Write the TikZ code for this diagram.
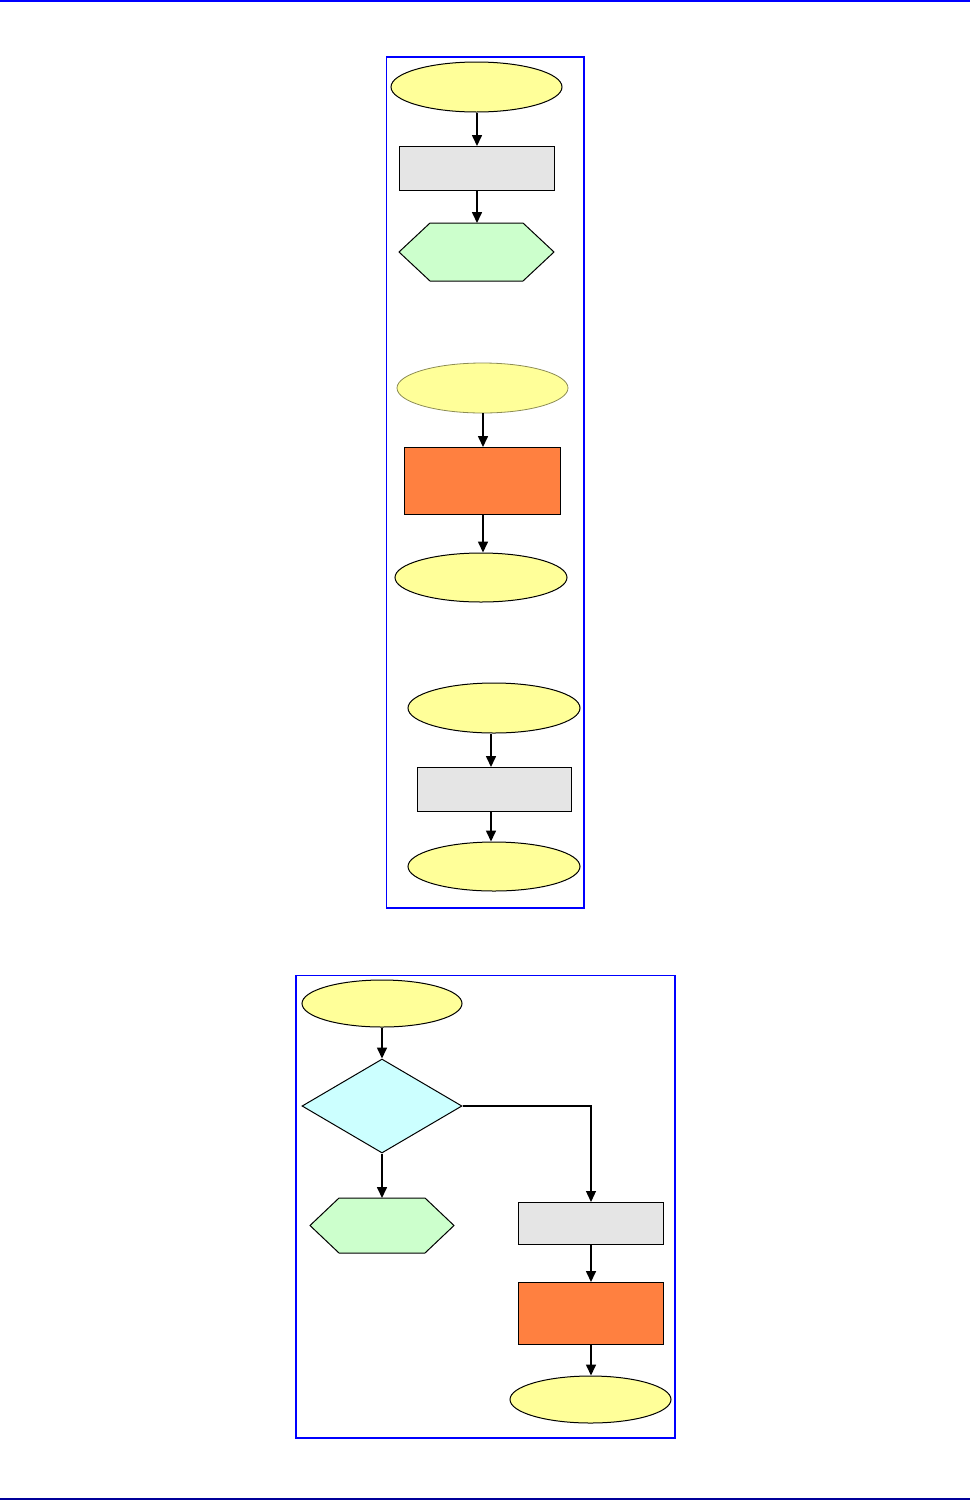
\documentclass[tikz,border=0pt]{standalone}
\usetikzlibrary{shapes.geometric,arrows.meta}
\definecolor{termyellow}{HTML}{FFFF99}
\definecolor{procgray}{HTML}{E5E5E5}
\definecolor{prepgreen}{HTML}{CCFFCC}
\definecolor{hotorange}{HTML}{FF8040}
\definecolor{decicyan}{HTML}{CCFFFF}
\definecolor{framblue}{HTML}{0000FF}
\definecolor{rulenavy}{HTML}{000099}
\tikzset{
  term/.style={ellipse, draw=black, line width=1pt, fill=termyellow, inner sep=0pt},
  termsoft/.style={ellipse, draw=black!45!termyellow, line width=0.8pt, fill=termyellow, inner sep=0pt},
  procbox/.style={rectangle, draw=black, line width=1.25pt, fill=procgray, inner sep=0pt, anchor=north west},
  hotbox/.style={rectangle, draw=black, line width=1.1pt, fill=hotorange, inner sep=0pt, anchor=north west},
  decision/.style={diamond, draw=black, line width=1pt, fill=decicyan, inner sep=0pt},
  hexfill/.style={draw=black, line width=1pt, fill=prepgreen},
  ghost/.style={rectangle, inner sep=0pt, anchor=north west},
  frame/.style={draw=framblue, line width=1.2pt},
  flow/.style={draw=black, line width=1.6pt, -{Triangle[length=11pt,width=10pt]}},
}
\begin{document}
\begin{tikzpicture}[x=1pt,y=-1pt]
\useasboundingbox (0,0) rectangle (970,1500);
% page rules
\draw[framblue, line width=1.5pt] (0,0.8) -- (970,0.8);
\draw[rulenavy, line width=1.5pt] (0,1499) -- (970,1499);
% frames
\draw[frame] (386.5,57) rectangle (584,908);
\draw[frame] (296,975.5) rectangle (675,1438);

% ---- group A ----
\node[term, minimum width=171pt, minimum height=50pt] (a1) at (476.5,87) {};
\node[procbox, minimum width=155pt, minimum height=44pt] (a2) at (399,146) {};
\draw[hexfill] (399,252) -- (430,223) -- (523,223) -- (554,252) -- (523,281) -- (430,281) -- cycle;
\node[ghost, minimum width=155pt, minimum height=58pt] (a3) at (399,223) {};
\draw[flow] (a1.south -| 477,0) -- (a2.north -| 477,0);
\draw[flow] (a2.south -| 477,0) -- (a3.north -| 477,0);

% ---- group B ----
\node[termsoft, minimum width=171pt, minimum height=50pt] (b1) at (482.5,388) {};
\node[hotbox, minimum width=156pt, minimum height=67pt] (b2) at (404,447) {};
\node[term, minimum width=172pt, minimum height=49pt] (b3) at (481,577.5) {};
\draw[flow] (b1.south -| 483,0) -- (b2.north -| 483,0);
\draw[flow] (b2.south -| 483,0) -- (b3.north -| 483,0);

% ---- group C ----
\node[term, minimum width=172pt, minimum height=50pt] (c1) at (494,708) {};
\node[procbox, minimum width=154pt, minimum height=44pt] (c2) at (417,767) {};
\node[term, minimum width=172pt, minimum height=49pt] (c3) at (494,866.5) {};
\draw[flow] (c1.south -| 491,0) -- (c2.north -| 491,0);
\draw[flow] (c2.south -| 491,0) -- (c3.north -| 491,0);

% ---- group D ----
\node[term, minimum width=160pt, minimum height=47pt] (d1) at (382,1003.5) {};
\node[decision, minimum width=160pt, minimum height=94pt, aspect=1.7] (d2) at (382,1106) {};
\draw[hexfill] (310,1225.5) -- (339,1198) -- (425,1198) -- (454,1225.5) -- (425,1253) -- (339,1253) -- cycle;
\node[ghost, minimum width=144pt, minimum height=55pt] (d3) at (310,1198) {};
\node[procbox, minimum width=145pt, minimum height=42pt, line width=1.1pt] (d4) at (518,1202) {};
\node[hotbox, minimum width=145pt, minimum height=62pt] (d5) at (518,1282) {};
\node[term, minimum width=161pt, minimum height=47pt] (d6) at (590.5,1399.5) {};
\draw[flow] (d1.south) -- (d2.north);
\draw[flow] (d2.south) -- (d3.north -| d2.south);
\draw[flow, line width=1.2pt] (d2.east) -| (d4.north -| 591,0);
\draw[flow] (d4.south -| 591,0) -- (d5.north -| 591,0);
\draw[flow] (d5.south -| 591,0) -- (d6.north -| 591,0);
\end{tikzpicture}
\end{document}
